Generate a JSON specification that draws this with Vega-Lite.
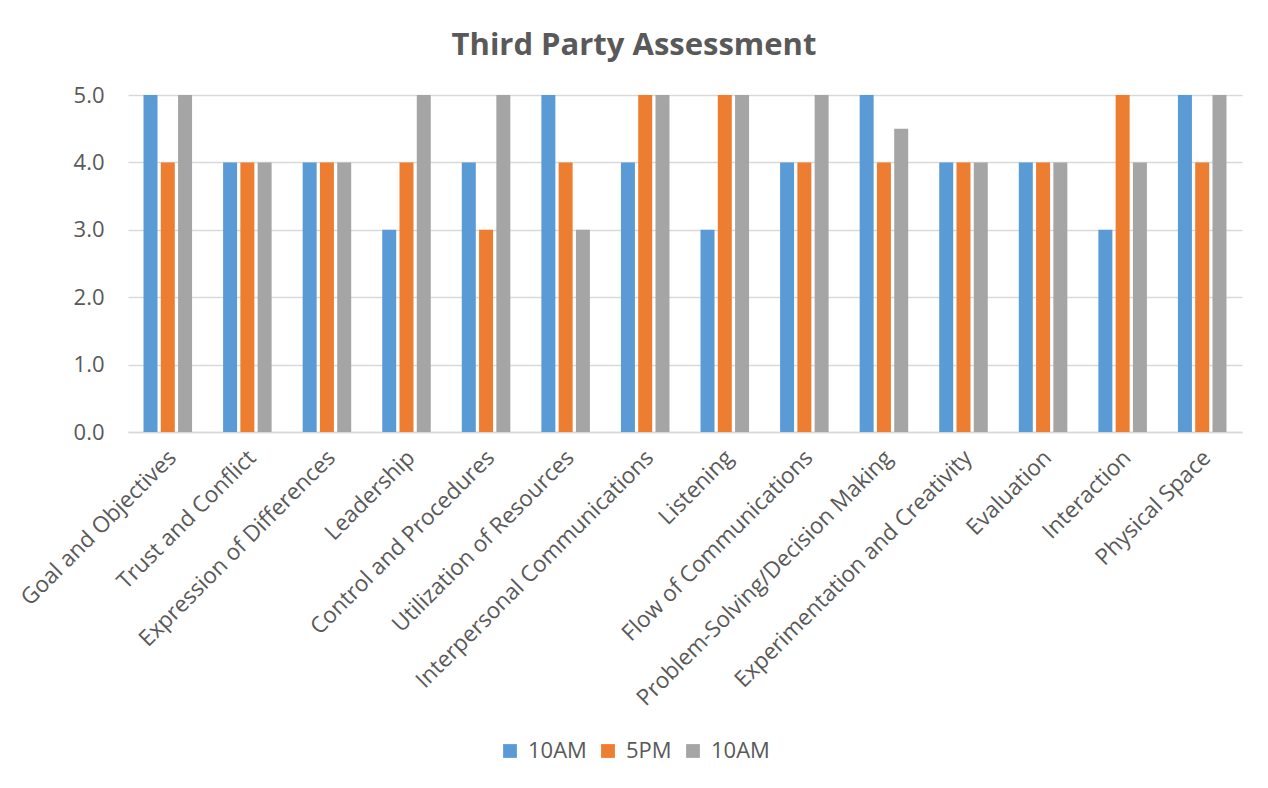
{
  "$schema": "https://vega.github.io/schema/vega-lite/v6.json",
  "width": 1114,
  "height": 337,
  "autosize": {"type": "none"},
  "padding": {"left": 128, "top": 95, "right": 26, "bottom": 356},
  "background": "white",
  "title": {
    "text": "Third Party Assessment",
    "font": "Open Sans",
    "fontSize": 31,
    "fontWeight": "bold",
    "color": "#595959",
    "anchor": "middle",
    "dx": -51,
    "baseline": "alphabetic",
    "offset": -2
  },
  "data": {
    "values": [
      {"area": "Goal and Objectives", "series": "10AM #1", "score": 5},
      {"area": "Goal and Objectives", "series": "5PM", "score": 4},
      {"area": "Goal and Objectives", "series": "10AM #2", "score": 5},
      {"area": "Trust and Conflict", "series": "10AM #1", "score": 4},
      {"area": "Trust and Conflict", "series": "5PM", "score": 4},
      {"area": "Trust and Conflict", "series": "10AM #2", "score": 4},
      {"area": "Expression of Differences", "series": "10AM #1", "score": 4},
      {"area": "Expression of Differences", "series": "5PM", "score": 4},
      {"area": "Expression of Differences", "series": "10AM #2", "score": 4},
      {"area": "Leadership", "series": "10AM #1", "score": 3},
      {"area": "Leadership", "series": "5PM", "score": 4},
      {"area": "Leadership", "series": "10AM #2", "score": 5},
      {"area": "Control and Procedures", "series": "10AM #1", "score": 4},
      {"area": "Control and Procedures", "series": "5PM", "score": 3},
      {"area": "Control and Procedures", "series": "10AM #2", "score": 5},
      {"area": "Utilization of Resources", "series": "10AM #1", "score": 5},
      {"area": "Utilization of Resources", "series": "5PM", "score": 4},
      {"area": "Utilization of Resources", "series": "10AM #2", "score": 3},
      {"area": "Interpersonal Communications", "series": "10AM #1", "score": 4},
      {"area": "Interpersonal Communications", "series": "5PM", "score": 5},
      {"area": "Interpersonal Communications", "series": "10AM #2", "score": 5},
      {"area": "Listening", "series": "10AM #1", "score": 3},
      {"area": "Listening", "series": "5PM", "score": 5},
      {"area": "Listening", "series": "10AM #2", "score": 5},
      {"area": "Flow of Communications", "series": "10AM #1", "score": 4},
      {"area": "Flow of Communications", "series": "5PM", "score": 4},
      {"area": "Flow of Communications", "series": "10AM #2", "score": 5},
      {"area": "Problem-Solving/Decision Making", "series": "10AM #1", "score": 5},
      {"area": "Problem-Solving/Decision Making", "series": "5PM", "score": 4},
      {"area": "Problem-Solving/Decision Making", "series": "10AM #2", "score": 4.5},
      {"area": "Experimentation and Creativity", "series": "10AM #1", "score": 4},
      {"area": "Experimentation and Creativity", "series": "5PM", "score": 4},
      {"area": "Experimentation and Creativity", "series": "10AM #2", "score": 4},
      {"area": "Evaluation", "series": "10AM #1", "score": 4},
      {"area": "Evaluation", "series": "5PM", "score": 4},
      {"area": "Evaluation", "series": "10AM #2", "score": 4},
      {"area": "Interaction", "series": "10AM #1", "score": 3},
      {"area": "Interaction", "series": "5PM", "score": 5},
      {"area": "Interaction", "series": "10AM #2", "score": 4},
      {"area": "Physical Space", "series": "10AM #1", "score": 5},
      {"area": "Physical Space", "series": "5PM", "score": 4},
      {"area": "Physical Space", "series": "10AM #2", "score": 5}
    ]
  },
  "mark": {"type": "bar"},
  "encoding": {
    "x": {
      "field": "area",
      "type": "nominal",
      "sort": null,
      "title": null,
      "scale": {"paddingInner": 0.39, "paddingOuter": 0.195},
      "axis": {
        "labelAngle": -45,
        "labelAlign": "right",
        "labelBaseline": "top",
        "labelPadding": 14,
        "labelOffset": -3,
        "labelFont": "Open Sans",
        "labelFontSize": 22.5,
        "labelColor": "#595959",
        "ticks": false,
        "domainColor": "#D9D9D9",
        "domainWidth": 1.5,
        "labelLimit": 500
      }
    },
    "xOffset": {
      "field": "series",
      "type": "nominal",
      "sort": ["10AM #1", "5PM", "10AM #2"],
      "scale": {"paddingInner": 0.19, "paddingOuter": 0}
    },
    "y": {
      "field": "score",
      "type": "quantitative",
      "title": null,
      "scale": {"domain": [0, 5], "nice": false},
      "axis": {
        "values": [0, 1, 2, 3, 4, 5],
        "format": ".1f",
        "domain": false,
        "ticks": false,
        "labelPadding": 24,
        "labelFont": "Open Sans",
        "labelFontSize": 22,
        "labelColor": "#595959",
        "gridColor": "#D9D9D9",
        "gridWidth": 1.5
      }
    },
    "color": {
      "field": "series",
      "type": "nominal",
      "sort": ["10AM #1", "5PM", "10AM #2"],
      "scale": {
        "domain": ["10AM #1", "5PM", "10AM #2"],
        "range": ["#5B9BD5", "#ED7D31", "#A5A5A5"]
      },
      "legend": {
        "title": null,
        "orient": "none",
        "direction": "horizontal",
        "legendX": 371,
        "legendY": 645,
        "symbolType": "square",
        "symbolSize": 190,
        "symbolStrokeWidth": 0,
        "labelFont": "Open Sans",
        "labelFontSize": 22,
        "labelColor": "#595959",
        "labelOffset": 7,
        "columnPadding": 10,
        "labelExpr": "datum.label == '5PM' ? '5PM' : '10AM'"
      }
    }
  },
  "config": {
    "view": {"stroke": null}
  }
}
